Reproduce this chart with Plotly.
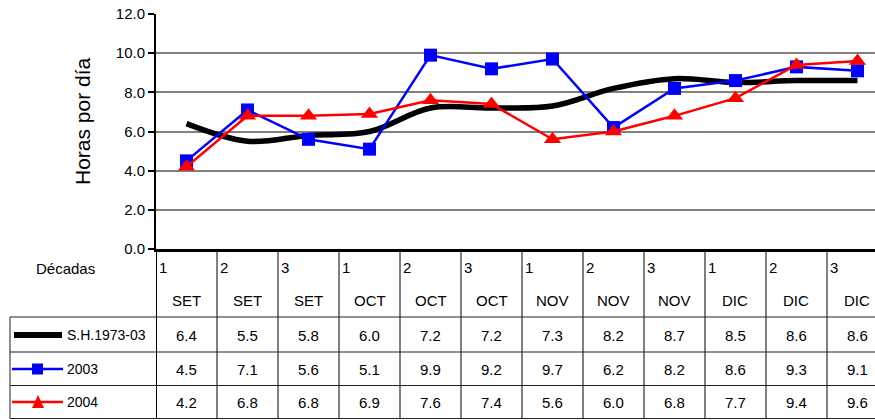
import plotly.graph_objects as go

# ---------------- data ----------------
decades = ["1", "2", "3", "1", "2", "3", "1", "2", "3", "1", "2", "3"]
months = ["SET", "SET", "SET", "OCT", "OCT", "OCT", "NOV", "NOV", "NOV", "DIC", "DIC", "DIC"]
series_names = ["S.H.1973-03", "2003", "2004"]
sh = [6.4, 5.5, 5.8, 6.0, 7.2, 7.2, 7.3, 8.2, 8.7, 8.5, 8.6, 8.6]
y2003 = [4.5, 7.1, 5.6, 5.1, 9.9, 9.2, 9.7, 6.2, 8.2, 8.6, 9.3, 9.1]
y2004 = [4.2, 6.8, 6.8, 6.9, 7.6, 7.4, 5.6, 6.0, 6.8, 7.7, 9.4, 9.6]
y_title = "Horas por día"
table_label = "Décadas"

# ---------------- layout helpers ----------------
W, H = 875, 420
FONT = "Liberation Sans, Arial, sans-serif"


def py(p):
    return 1 - p / H


def px(p):
    return p / W


xs = list(range(len(months)))

fig = go.Figure()
fig.add_trace(go.Scatter(x=xs, y=sh, mode="lines", name=series_names[0],
                         line=dict(color="black", width=5.5, shape="spline", smoothing=1),
                         cliponaxis=False, showlegend=False))
fig.add_trace(go.Scatter(x=xs, y=y2003, mode="lines+markers", name=series_names[1],
                         line=dict(color="#0000FF", width=2.5),
                         marker=dict(symbol="square", size=13, color="#0000FF", line=dict(width=0)),
                         cliponaxis=False, showlegend=False))
fig.add_trace(go.Scatter(x=xs, y=y2004, mode="lines+markers", name=series_names[2],
                         line=dict(color="#FF0000", width=2.5),
                         marker=dict(symbol="triangle-up", size=15, color="#FF0000", line=dict(width=0)),
                         cliponaxis=False, showlegend=False))

shapes = []
annotations = []

top_y = 249
row_lines = [317, 352, 385.5, 418.5]
left_x = 10
right_x = 875
line_style = dict(color="#222222", width=1)

for k in range(len(months)):
    shapes.append(dict(type="line", xref="x", yref="paper", x0=k - 0.5, x1=k - 0.5,
                       y0=py(419), y1=py(top_y),
                       line=dict(color="black", width=2 if k == 0 else 1)))
for r in row_lines:
    shapes.append(dict(type="line", xref="paper", yref="paper", x0=px(left_x), x1=px(right_x),
                       y0=py(r), y1=py(r), line=line_style))
shapes.append(dict(type="line", xref="paper", yref="paper", x0=px(left_x), x1=px(left_x),
                   y0=py(418.5), y1=py(317), line=line_style))

for i, (d, m) in enumerate(zip(decades, months)):
    annotations.append(dict(xref="x", yref="paper", x=i - 0.5, y=py(267), text=d, showarrow=False,
                            xanchor="left", yanchor="middle", xshift=1,
                            font=dict(family=FONT, size=15, color="black")))
    annotations.append(dict(xref="x", yref="paper", x=i, y=py(300), text=m, showarrow=False,
                            xanchor="center", yanchor="middle",
                            font=dict(family=FONT, size=15, color="black")))

annotations.append(dict(xref="paper", yref="paper", x=px(65), y=py(268), text=table_label,
                        showarrow=False, xanchor="center", yanchor="middle",
                        font=dict(family=FONT, size=15, color="black")))

row_centers = [335, 369, 402]
for vals, rc in zip([sh, y2003, y2004], row_centers):
    for i, v in enumerate(vals):
        annotations.append(dict(xref="x", yref="paper", x=i, y=py(rc), text=f"{v:.1f}",
                                showarrow=False, xanchor="center", yanchor="middle",
                                font=dict(family=FONT, size=15, color="black")))

for name, rc in zip(series_names, row_centers):
    annotations.append(dict(xref="paper", yref="paper", x=px(65), y=py(rc), text=name,
                            showarrow=False, xanchor="left", yanchor="middle",
                            font=dict(family=FONT, size=14, color="black")))

shapes.append(dict(type="line", xref="paper", yref="paper", x0=px(14), x1=px(62),
                   y0=py(row_centers[0]), y1=py(row_centers[0]),
                   line=dict(color="black", width=6)))
shapes.append(dict(type="line", xref="paper", yref="paper", x0=px(12), x1=px(63),
                   y0=py(row_centers[1]), y1=py(row_centers[1]),
                   line=dict(color="#0000FF", width=2.5)))
shapes.append(dict(type="rect", xref="paper", yref="paper", x0=px(32), x1=px(43),
                   y0=py(row_centers[1] + 5.5), y1=py(row_centers[1] - 5.5),
                   fillcolor="#0000FF", line=dict(width=0)))
shapes.append(dict(type="line", xref="paper", yref="paper", x0=px(12), x1=px(63),
                   y0=py(row_centers[2]), y1=py(row_centers[2]),
                   line=dict(color="#FF0000", width=2.5)))
tri = (f"M {px(32)},{py(row_centers[2] + 6)} L {px(44)},{py(row_centers[2] + 6)} "
       f"L {px(38)},{py(row_centers[2] - 7)} Z")
shapes.append(dict(type="path", xref="paper", yref="paper", path=tri,
                   fillcolor="#FF0000", line=dict(width=0)))

annotations.append(dict(xref="paper", yref="paper", x=px(83), y=py(121), text=y_title,
                        textangle=-90, showarrow=False, xanchor="center", yanchor="middle",
                        font=dict(family=FONT, size=21, color="black")))

fig.update_layout(
    width=W, height=H, autosize=False,
    margin=dict(l=0, r=0, t=0, b=0, pad=0, autoexpand=False),
    paper_bgcolor="white", plot_bgcolor="white",
    showlegend=False,
    font=dict(family=FONT, color="black"),
    xaxis=dict(domain=[px(156), 1], range=[-0.5, 11.287], showgrid=False,
               showticklabels=False, ticks="", zeroline=False, automargin=False,
               showline=True, linecolor="black", linewidth=2.5, fixedrange=True),
    yaxis=dict(domain=[py(249), py(14)], range=[0, 12], dtick=2, tick0=0,
               tickformat=".1f", showgrid=True, gridcolor="#808080", gridwidth=2,
               zeroline=False, showline=True, linecolor="black", linewidth=2,
               ticks="outside", ticklen=6, tickcolor="black", tickwidth=1.5, automargin=False,
               tickfont=dict(family=FONT, size=15, color="black"), fixedrange=True),
    shapes=shapes,
    annotations=annotations,
)

fig.write_html("out.html")
